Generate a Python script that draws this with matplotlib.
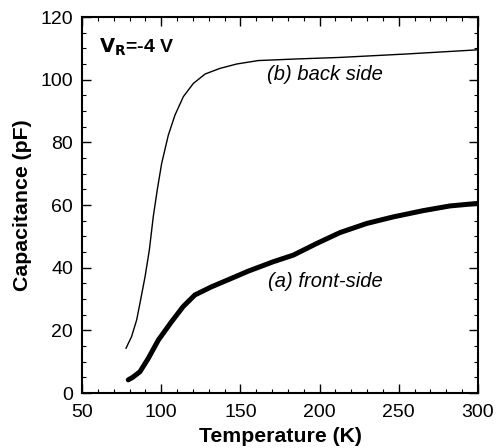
import matplotlib
matplotlib.use('Agg')
import matplotlib.pyplot as plt
from matplotlib.ticker import MultipleLocator

plt.rcParams['font.family'] = ['Liberation Sans', 'DejaVu Sans']

# back side (thin curve)
tempB = [77.8, 81.3, 84.5, 87, 89.8, 92.5, 95, 97.5, 100.3, 104.5, 108.7, 114, 120.3, 127.7, 137.1, 147.7, 161.3, 185, 212.9, 255, 299]
capB = [14.3, 18, 23.3, 29.7, 37.1, 45.6, 56.3, 64.8, 73.3, 82.3, 88.7, 94.6, 98.8, 101.8, 103.6, 105, 106.1, 106.6, 107.1, 108.2, 109.5]

# front side (thick curve)
tempA = [79.2, 82, 86.6, 91.9, 98.2, 106.6, 113.9, 121.3, 131.8, 144.4, 155, 170.8, 183.4, 198.1, 212.9, 229.7, 246.5, 265.4, 282.3, 299.5]
capA = [4.2, 5, 6.8, 11.1, 16.9, 22.8, 27.6, 31.3, 33.9, 36.6, 38.9, 41.9, 44, 47.7, 51.2, 54.1, 56.2, 58.2, 59.7, 60.5]

fig = plt.figure(figsize=(4.97, 4.48), dpi=100)
ax = fig.add_axes([82 / 497, 1 - 393 / 448, (478 - 82) / 497, (393 - 17) / 448])

ax.plot(tempB, capB, color='black', lw=1.0, solid_joinstyle='round')
ax.plot(tempA, capA, color='black', lw=3.6, solid_capstyle='round', solid_joinstyle='round')

ax.set_xlim(50, 300)
ax.set_ylim(0, 120)
ax.xaxis.set_major_locator(MultipleLocator(50))
ax.xaxis.set_minor_locator(MultipleLocator(10))
ax.yaxis.set_major_locator(MultipleLocator(20))
ax.yaxis.set_minor_locator(MultipleLocator(5))
ax.tick_params(which='both', direction='in', top=True, right=True, labelsize=14)
ax.tick_params(which='major', length=6.5, width=1)
ax.tick_params(which='minor', length=3, width=0.8)
ax.tick_params(axis='y', pad=6.5)
ax.tick_params(axis='x', pad=8)
for s in ax.spines.values():
    s.set_linewidth(1.5)

ax.set_xlabel('Temperature (K)', fontsize=15.3, fontweight='bold', labelpad=4)
ax.set_ylabel('Capacitance (pF)', fontsize=15.3, fontweight='bold', labelpad=6)

ax.text(61, 110.4, r'$\mathbf{V_R}$=-4 V', fontsize=14, fontweight='bold', va='center')
ax.text(166.8, 101.5, '(b) back side', fontsize=14.5, style='italic', va='center')
ax.text(167.4, 35.5, '(a) front-side', fontsize=14.5, style='italic', va='center')

fig.savefig('out.png', dpi=100)
